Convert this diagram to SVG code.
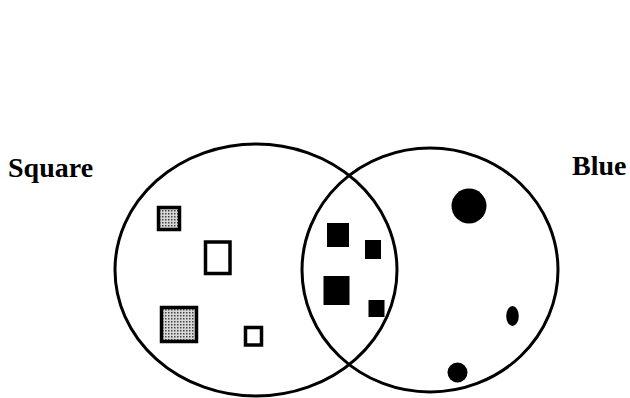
<svg xmlns="http://www.w3.org/2000/svg" width="630" height="398" viewBox="0 0 630 398">
<style>
.set{fill:none;stroke:#000;stroke-width:3}
.lbl{font-family:"Liberation Serif","Times New Roman",serif;font-weight:bold;font-size:28px;fill:#000}
.open{fill:#fff;stroke:#000;stroke-width:3.5}
.stip{fill:url(#dots);stroke:#000;stroke-width:3.5}
.solid{fill:#000}
</style>
<defs>
<pattern id="dots" width="3" height="3" patternUnits="userSpaceOnUse">
<rect width="3" height="3" fill="#d8d8d8"/>
<rect x="0" y="0" width="1.5" height="1.5" fill="#444"/>
</pattern>
</defs>
<rect width="630" height="398" fill="#fff"/>
<g id="set-square">
<ellipse class="set" cx="256" cy="270" rx="141" ry="126"/>
<text class="lbl" x="8" y="177">Square</text>
</g>
<g id="set-blue">
<ellipse class="set" cx="430" cy="270" rx="128" ry="122"/>
<text class="lbl" x="572" y="175">Blue</text>
</g>
<g id="sq-stip-small"><rect class="stip" x="158.5" y="207.5" width="21" height="22"/></g>
<g id="sq-open-1"><rect class="open" x="205.5" y="242" width="24.5" height="31.5"/></g>
<g id="sq-stip-large"><rect class="stip" x="161.5" y="307.5" width="35" height="34"/></g>
<g id="sq-open-2"><rect class="open" x="245.5" y="327.5" width="16" height="17.5"/></g>
<g id="blue-sq-1"><rect class="solid" x="327" y="223" width="22" height="24"/></g>
<g id="blue-sq-2"><rect class="solid" x="365" y="240" width="16" height="19"/></g>
<g id="blue-sq-3"><rect class="solid" x="323.5" y="276" width="26" height="29"/></g>
<g id="blue-sq-4"><rect class="solid" x="368.5" y="300" width="16" height="17"/></g>
<g id="blue-dot-1"><circle class="solid" cx="469" cy="206" r="17.5"/></g>
<g id="blue-dot-2"><ellipse class="solid" cx="512.5" cy="316" rx="6.3" ry="10"/></g>
<g id="blue-dot-3"><circle class="solid" cx="457.5" cy="372.5" r="10"/></g>
<g id="connectors"></g>
</svg>
